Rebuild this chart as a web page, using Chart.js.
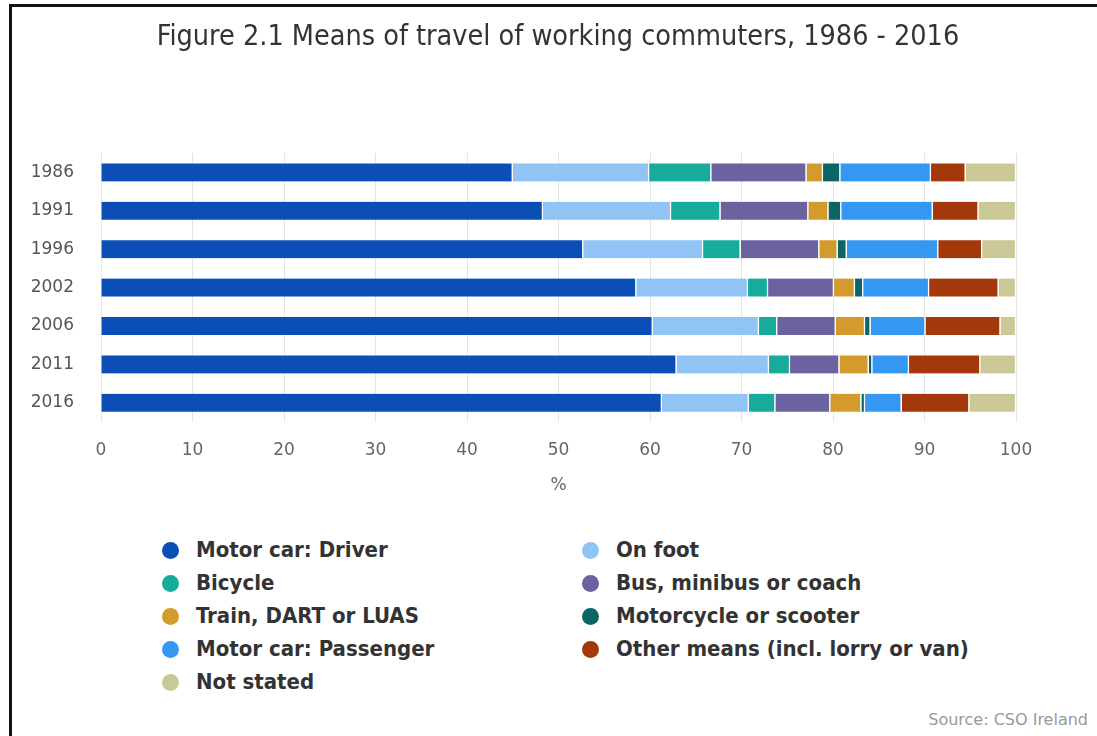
<!DOCTYPE html>
<html>
<head>
<meta charset="utf-8">
<script src="https://cdn.jsdelivr.net/npm/chart.js@4/dist/chart.umd.min.js"></script>
<style>
  html, body { margin: 0; padding: 0; background: #fff; }
  body { width: 1097px; height: 736px; position: relative; overflow: hidden; }
  #frame { position: absolute; left: 9px; top: 4px; right: -10px; bottom: -10px;
           border-left: 3px solid #111; border-top: 3px solid #111; pointer-events: none; }
  /* canvas is a bit wider than the page so the title centres over the whole figure */
  #wrap { position: absolute; left: 0; top: 0; width: 1116px; height: 500px; }
  #legend { position: absolute; left: 162px; top: 533px; width: 860px;
            font-family: "DejaVu Sans Condensed", "DejaVu Sans", sans-serif;
            font-weight: bold; font-size: 22px; color: #333; }
  #legend .item { position: absolute; height: 33px; line-height: 33px; white-space: nowrap; }
  #legend .dot { display: inline-block; width: 17px; height: 17px; border-radius: 50%;
                 vertical-align: -2px; margin-right: 17px; }
  #source { position: absolute; right: 9px; top: 710px; font-family: "DejaVu Sans", sans-serif;
            font-size: 16px; color: #999; }
</style>
</head>
<body>
<div id="wrap"><canvas id="chart"></canvas></div>
<div id="legend"></div>
<div id="source">Source: CSO Ireland</div>
<div id="frame"></div>
<script>
// census years
const years = ['1986', '1991', '1996', '2002', '2006', '2011', '2016'];

// share of working commuters (%) by means of travel
const carDriver     = [45.0, 48.3, 52.7, 58.5, 60.3, 62.9, 61.3];
const onFoot        = [14.9, 14.0, 13.1, 12.2, 11.6, 10.1,  9.5];
const bicycle       = [ 6.8,  5.4,  4.1,  2.2,  2.0,  2.3,  2.9];
const bus           = [10.4,  9.6,  8.6,  7.2,  6.4,  5.4,  6.0];
const train         = [ 1.8,  2.2,  2.0,  2.3,  3.2,  3.2,  3.4];
const motorcycle    = [ 1.9,  1.4,  1.0,  0.9,  0.6,  0.4,  0.4];
const carPassenger  = [ 9.9, 10.0, 10.0,  7.2,  6.0,  4.0,  4.0];
const otherMeans    = [ 3.8,  5.0,  4.8,  7.6,  8.2,  7.8,  7.4];
const notStated     = [ 5.5,  4.1,  3.7,  1.9,  1.7,  3.9,  5.1];

const xTicks = [0, 10, 20, 30, 40, 50, 60, 70, 80, 90, 100];

const series = [
  { label: 'Motor car: Driver', data: carDriver, color: '#0b4fb6' },
  { label: 'On foot', data: onFoot, color: '#8fc4f4' },
  { label: 'Bicycle', data: bicycle, color: '#17ab9c' },
  { label: 'Bus, minibus or coach', data: bus, color: '#6a639f' },
  { label: 'Train, DART or LUAS', data: train, color: '#d39a2c' },
  { label: 'Motorcycle or scooter', data: motorcycle, color: '#0b6566' },
  { label: 'Motor car: Passenger', data: carPassenger, color: '#3498f2' },
  { label: 'Other means (incl. lorry or van)', data: otherMeans, color: '#a3380b' },
  { label: 'Not stated', data: notStated, color: '#cbc897' }
];

const tickFont = { family: '"DejaVu Sans", sans-serif', size: 17 };

new Chart(document.getElementById('chart'), {
  type: 'bar',
  data: {
    labels: years,
    datasets: series.map(s => ({
      label: s.label,
      data: s.data,
      backgroundColor: s.color,
      borderColor: '#ffffff',
      borderWidth: { top: 0, bottom: 0, left: 0, right: 1.5 },
      borderSkipped: false,
      barThickness: 18
    }))
  },
  options: {
    indexAxis: 'y',
    responsive: true,
    maintainAspectRatio: false,
    animation: false,
    layout: { padding: 0 },
    scales: {
      x: {
        stacked: true, min: 0, max: 100,
        afterBuildTicks: scale => { scale.ticks = xTicks.map(v => ({ value: v })); },
        afterFit: scale => { scale.height = 78; },
        grid: { color: '#e4e4e4', drawTicks: false },
        border: { display: false },
        ticks: { color: '#666', font: tickFont, padding: 18, maxRotation: 0 },
        title: { display: true, text: '%', color: '#666', font: tickFont, padding: { top: 0, bottom: 4 } }
      },
      y: {
        stacked: true,
        afterFit: scale => { scale.width = 101; },
        grid: { display: false, drawTicks: false },
        border: { display: false },
        ticks: { color: '#555', font: tickFont, padding: 27 }
      },
      // empty right-hand axis that only reserves the right margin
      yRight: {
        type: 'category',
        position: 'right',
        afterFit: scale => { scale.width = 100; },
        grid: { display: false, drawTicks: false },
        border: { display: false },
        ticks: { display: false }
      }
    },
    plugins: {
      legend: { display: false },
      tooltip: { enabled: false },
      title: {
        display: true,
        text: 'Figure 2.1 Means of travel of working commuters, 1986 - 2016',
        color: '#333',
        font: { family: '"DejaVu Sans Condensed", "DejaVu Sans", sans-serif', size: 28.5, weight: 'normal' },
        padding: { top: 20, bottom: 99 }
      }
    }
  }
});

// two-column legend below the plot
const legend = document.getElementById('legend');
series.forEach((s, i) => {
  const item = document.createElement('div');
  item.className = 'item';
  item.style.left = (i % 2 === 0 ? 0 : 420) + 'px';
  item.style.top = (Math.floor(i / 2) * 33) + 'px';
  item.innerHTML = '<span class="dot" style="background:' + s.color + '"></span>' + s.label;
  legend.appendChild(item);
});
</script>
</body>
</html>
